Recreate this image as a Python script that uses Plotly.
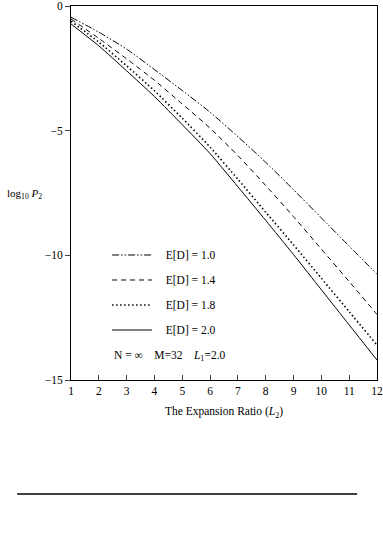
import plotly.graph_objects as go

x_vals = [1, 2, 3, 4, 5, 6, 7, 8, 9, 10, 11, 12]
ed_10 = [-0.45, -1.05, -1.73, -2.55, -3.39, -4.26, -5.24, -6.27, -7.37, -8.50, -9.63, -10.76]
ed_14 = [-0.52, -1.30, -2.12, -2.98, -3.93, -4.90, -6.00, -7.20, -8.45, -9.75, -11.05, -12.37]
ed_18 = [-0.61, -1.45, -2.40, -3.40, -4.50, -5.66, -6.95, -8.27, -9.58, -10.92, -12.26, -13.60]
ed_20 = [-0.72, -1.60, -2.60, -3.63, -4.76, -5.92, -7.25, -8.60, -9.97, -11.38, -12.79, -14.20]
series_names = ["E[D] = 1.0", "E[D] = 1.4", "E[D] = 1.8", "E[D] = 2.0"]
x_ticks = list(range(1, 13))
y_ticks = [0, -5, -10, -15]

serif = "Liberation Serif, DejaVu Serif, serif"
styles = [
    dict(dash="7px,2px,1.5px,2px,1.5px,2px", width=1),
    dict(dash="5px,4px", width=1),
    dict(dash="1.5px,2.5px", width=1.6),
    dict(dash="solid", width=1),
]

fig = go.Figure()
for i, (name, ys) in enumerate(zip(series_names, [ed_10, ed_14, ed_18, ed_20])):
    fig.add_trace(go.Scatter(
        x=x_vals, y=ys, mode="lines", name="   " + name,
        line=dict(color="black", shape="spline", smoothing=0.6, **styles[i]),
        legendgroup=f"g{i}",
    ))

fig.update_layout(
    width=383, height=533,
    margin=dict(l=71, r=6, t=6, b=153, autoexpand=False),
    paper_bgcolor="white", plot_bgcolor="white",
    font=dict(family=serif, size=11, color="black"),
    showlegend=True,
    legend=dict(
        x=0.118, y=0.373, xanchor="left", yanchor="top",
        bgcolor="rgba(0,0,0,0)", tracegroupgap=6,
        font=dict(family=serif, size=11.5),
        itemwidth=40,
    ),
    xaxis=dict(
        range=[1, 12], tickvals=x_ticks, ticks="inside", ticklen=5,
        showgrid=False, zeroline=False, showline=True, linecolor="black",
        linewidth=1, mirror=True, tickfont=dict(size=11.5), automargin=False,
        title=dict(text="The Expansion Ratio (<i>L</i><sub>2</sub>)", font=dict(size=11.5), standoff=11),
    ),
    yaxis=dict(
        range=[-15, 0], tickvals=y_ticks,
        ticktext=["0", "\u22125", "\u221210", "\u221215"],
        ticks="outside", ticklen=5, automargin=False,
        showgrid=False, zeroline=False, showline=True, linecolor="black",
        linewidth=1, mirror=True, tickfont=dict(size=11.5),
    ),
)

fig.add_annotation(
    text="log<sub>10</sub> <i>P</i><sub>2</sub>", xref="paper", yref="paper",
    x=-0.153, y=0.498, xanchor="center", yanchor="middle", showarrow=False,
    font=dict(family=serif, size=11),
)
fig.add_annotation(
    text="N = \u221e &nbsp;&nbsp;&nbsp;M=32 &nbsp;&nbsp;&nbsp;<i>L</i><sub>1</sub>=2.0",
    xref="paper", yref="paper", x=0.133, y=0.064, xanchor="left", yanchor="middle",
    showarrow=False, font=dict(family=serif, size=11.5),
)
fig.add_shape(type="line", xref="paper", yref="paper", x0=-0.176, x1=0.935,
              y0=-0.305, y1=-0.305, line=dict(color="black", width=1.5))

fig.write_html("out.html", config={"displayModeBar": False},
               post_script="document.body.style.margin='0px';")
